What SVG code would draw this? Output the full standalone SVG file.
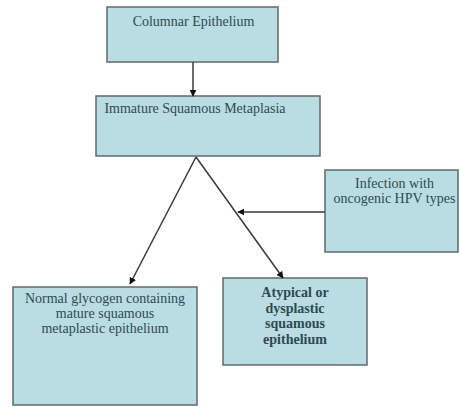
<svg xmlns="http://www.w3.org/2000/svg" width="460" height="407" viewBox="0 0 460 407">
<defs>
<style>
.box{fill:#b9dde3;stroke:#5f6a6c;stroke-width:1.5}
.t{font-family:"Liberation Serif","Times New Roman",serif;font-size:14px;fill:#2e4a50;text-anchor:middle}
.b{font-weight:bold}
.c{stroke:#3a3a3a;stroke-width:1.5;fill:none;marker-end:url(#ah)}
</style>
<marker id="ah" viewBox="0 0 10 10" refX="9" refY="5" markerWidth="7" markerHeight="7" orient="auto" markerUnits="userSpaceOnUse">
<path d="M0,0 L10,5 L0,10 z" fill="#111"/>
</marker>
</defs>
<rect width="460" height="407" fill="#fff"/>
<g id="columnar">
<rect class="box" x="107" y="7" width="171" height="55"/>
<text class="t" x="193.5" y="26">Columnar Epithelium</text>
</g>
<g id="immature">
<rect class="box" x="96" y="96" width="224" height="60"/>
<text class="t" x="195" y="113">Immature Squamous Metaplasia</text>
</g>
<g id="infection">
<rect class="box" x="325" y="170" width="133" height="82"/>
<text class="t" x="394.5" y="188">Infection with</text>
<text class="t" x="394.5" y="203">oncogenic HPV types</text>
</g>
<g id="normal">
<rect class="box" x="13" y="287" width="184" height="118"/>
<text class="t" x="105" y="303">Normal glycogen containing</text>
<text class="t" x="105" y="318">mature squamous</text>
<text class="t" x="105" y="333">metaplastic epithelium</text>
</g>
<g id="atypical">
<rect class="box" x="223" y="278" width="144" height="87"/>
<text class="t b" x="295" y="297">Atypical or</text>
<text class="t b" x="295" y="312.5">dysplastic</text>
<text class="t b" x="295" y="328">squamous</text>
<text class="t b" x="295" y="343.5">epithelium</text>
</g>
<g id="connectors">
<line class="c" x1="193" y1="62" x2="193" y2="96"/>
<line class="c" x1="196" y1="157" x2="130" y2="284"/>
<line class="c" x1="196" y1="157" x2="283" y2="278"/>
<line class="c" x1="325" y1="212" x2="238" y2="212"/>
</g>
</svg>
